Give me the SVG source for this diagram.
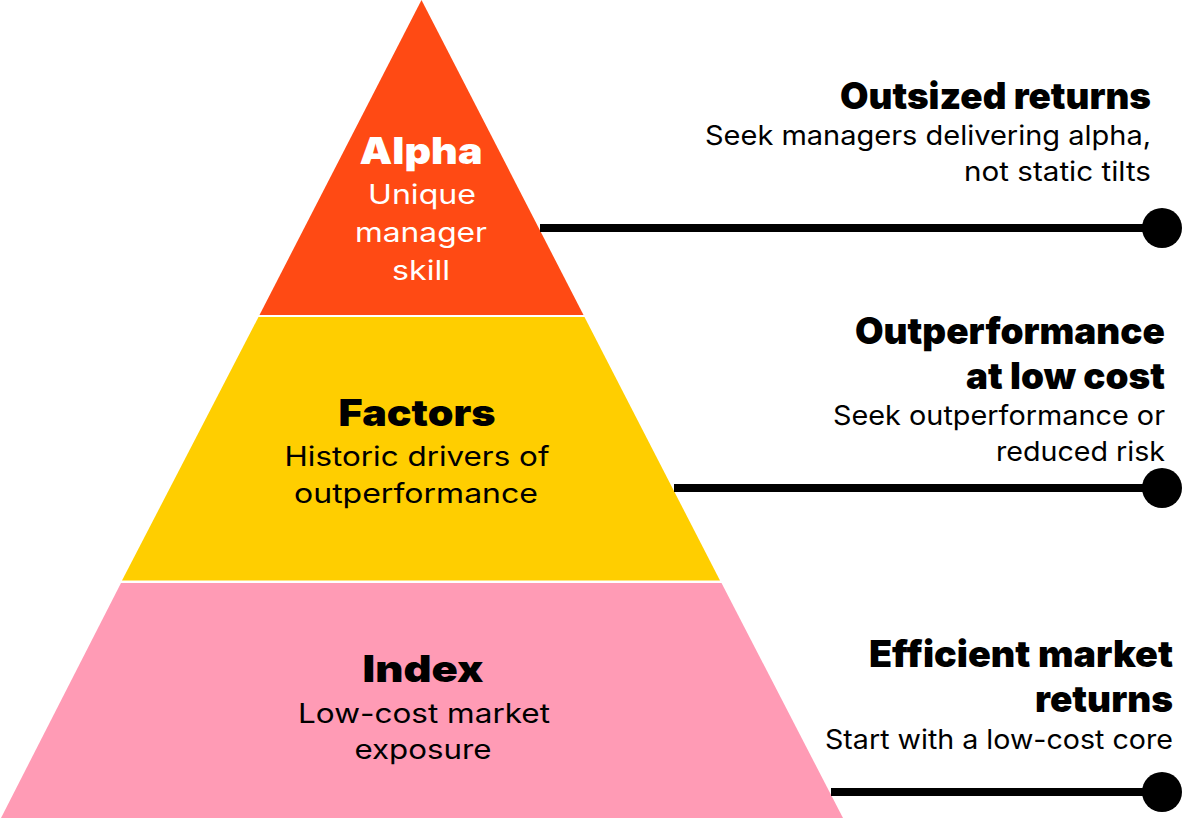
<svg xmlns="http://www.w3.org/2000/svg" width="1183" height="822" viewBox="0 0 1183 822">
<style>
.h{font-family:Inter,Roboto,"Liberation Sans",sans-serif;font-weight:900;font-size:37px}
.t{font-family:Inter,Roboto,"Liberation Sans",sans-serif;font-weight:400;font-size:27px}
.c{text-anchor:middle}
.r{text-anchor:end}
.w{fill:#FFFFFF}
.k{fill:#000000}
.ln{stroke:#000;stroke-width:8;fill:none}
</style>
<rect width="1183" height="822" fill="#FFFFFF"/>
<g id="alpha">
<polygon points="421.5,0 259.5,315 583.5,315" fill="#FF4A14"/>
<text class="h c w" x="421" y="164" textLength="123" lengthAdjust="spacingAndGlyphs">Alpha</text>
<text class="t c w" x="422" y="204" textLength="108" lengthAdjust="spacingAndGlyphs">Unique</text>
<text class="t c w" x="421" y="242" textLength="132" lengthAdjust="spacingAndGlyphs">manager</text>
<text class="t c w" x="421" y="280" textLength="58" lengthAdjust="spacingAndGlyphs">skill</text>
</g>
<g id="factors">
<polygon points="258.5,317 584.5,317 720,580.5 122,580.5" fill="#FFCE00"/>
<text class="h c k" x="417" y="426" textLength="157" lengthAdjust="spacingAndGlyphs">Factors</text>
<text class="t c k" x="417" y="466" textLength="265" lengthAdjust="spacingAndGlyphs">Historic drivers of</text>
<text class="t c k" x="416" y="503" textLength="244" lengthAdjust="spacingAndGlyphs">outperformance</text>
</g>
<g id="index">
<polygon points="121,583 721.5,583 843,818 1,818" fill="#FF9BB5"/>
<text class="h c k" x="423" y="682" textLength="121" lengthAdjust="spacingAndGlyphs">Index</text>
<text class="t c k" x="424" y="723" textLength="252" lengthAdjust="spacingAndGlyphs">Low-cost market</text>
<text class="t c k" x="423" y="759" textLength="137" lengthAdjust="spacingAndGlyphs">exposure</text>
</g>
<g id="label-alpha">
<text class="h r k" x="1151" y="109" textLength="311" lengthAdjust="spacingAndGlyphs">Outsized returns</text>
<text class="t r k" x="1151" y="145" textLength="446" lengthAdjust="spacingAndGlyphs">Seek managers delivering alpha,</text>
<text class="t r k" x="1151" y="181" textLength="187" lengthAdjust="spacingAndGlyphs">not static tilts</text>
</g>
<g id="label-factors">
<text class="h r k" x="1165" y="344" textLength="310" lengthAdjust="spacingAndGlyphs">Outperformance</text>
<text class="h r k" x="1165" y="389" textLength="199" lengthAdjust="spacingAndGlyphs">at low cost</text>
<text class="t r k" x="1165" y="425" textLength="332" lengthAdjust="spacingAndGlyphs">Seek outperformance or</text>
<text class="t r k" x="1165" y="461" textLength="169" lengthAdjust="spacingAndGlyphs">reduced risk</text>
</g>
<g id="label-index">
<text class="h r k" x="1173" y="667" textLength="304" lengthAdjust="spacingAndGlyphs">Efficient market</text>
<text class="h r k" x="1173" y="712" textLength="138" lengthAdjust="spacingAndGlyphs">returns</text>
<text class="t r k" x="1173" y="749" textLength="348" lengthAdjust="spacingAndGlyphs">Start with a low-cost core</text>
</g>
<g id="connectors">
<line class="ln" x1="540" y1="228" x2="1150" y2="228"/>
<circle cx="1162" cy="228" r="20" fill="#000"/>
<line class="ln" x1="674" y1="488" x2="1150" y2="488"/>
<circle cx="1162" cy="488" r="20" fill="#000"/>
<line class="ln" x1="831" y1="792" x2="1150" y2="792"/>
<circle cx="1162" cy="792" r="20" fill="#000"/>
</g>
</svg>
